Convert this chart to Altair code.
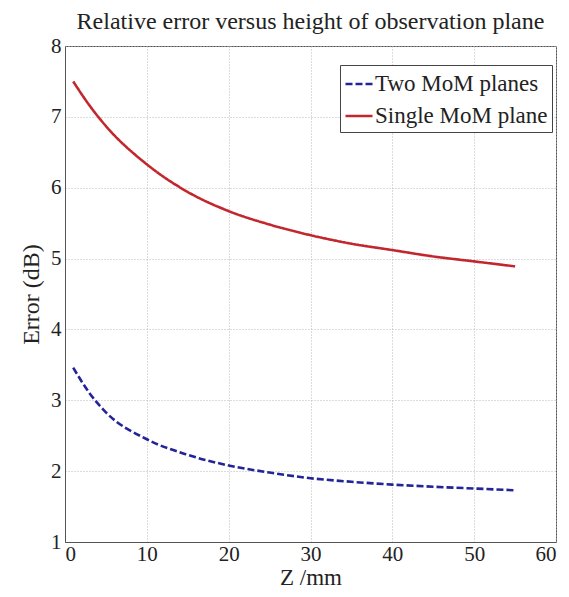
import altair as alt
import pandas as pd

z_mm = [1, 3, 5, 10, 15, 20, 25, 30, 35, 40, 45, 50, 55]
two_planes = [3.46, 3.10, 2.83, 2.45, 2.23, 2.08, 1.98, 1.90, 1.85, 1.81, 1.78, 1.755, 1.73]
single_plane = [7.50, 7.16, 6.87, 6.33, 5.94, 5.67, 5.48, 5.33, 5.21, 5.12, 5.03, 4.96, 4.89]
series_names = ["Two MoM planes", "Single MoM plane"]
x_ticks = [0, 10, 20, 30, 40, 50, 60]
y_ticks = [1, 2, 3, 4, 5, 6, 7, 8]

rows = []
for z, v in zip(z_mm, two_planes):
    rows.append({"z": z, "err": v, "series": series_names[0]})
for z, v in zip(z_mm, single_plane):
    rows.append({"z": z, "err": v, "series": series_names[1]})
df = pd.DataFrame(rows)

FONT = "Liberation Serif"

legend = alt.Legend(title=None, orient="none", legendX=275, legendY=19,
                    symbolType="stroke", symbolSize=729, symbolStrokeWidth=2.5,
                    labelFont=FONT, labelFontSize=23, labelColor="#222", labelLimit=400,
                    fillColor="white", strokeColor="#444", padding=4,
                    rowPadding=5, labelOffset=1, cornerRadius=0)

chart = alt.Chart(df).mark_line(strokeWidth=2.6, interpolate="monotone").encode(
    x=alt.X("z:Q", scale=alt.Scale(domain=[0, 60], nice=False),
            axis=alt.Axis(values=x_ticks, title="Z /mm", format="d")),
    y=alt.Y("err:Q", scale=alt.Scale(domain=[1, 8], nice=False),
            axis=alt.Axis(values=y_ticks, title="Error (dB)", format="d")),
    color=alt.Color("series:N",
                    scale=alt.Scale(domain=series_names, range=["#23239a", "#c1272d"]),
                    legend=legend),
    strokeDash=alt.StrokeDash("series:N",
                              scale=alt.Scale(domain=series_names, range=[[7, 3], [1, 0]]),
                              legend=legend),
).properties(
    width=491, height=496,
    background="white",
    title=alt.TitleParams("Relative error versus height of observation plane",
                          font=FONT, fontSize=24, fontWeight="normal", color="#222",
                          anchor="middle", offset=1),
    autosize=alt.AutoSizeParams(type="none"),
    padding={"left": 57, "top": 38, "right": 2, "bottom": 47},
).configure_axis(
    labelFont=FONT, labelFontSize=21, labelColor="#222",
    titleFont=FONT, titleFontSize=24, titleFontWeight="normal", titleColor="#222",
    grid=True, gridColor="#b8b8b8", gridDash=[1, 2], gridWidth=1,
    domainColor="#555", ticks=False,
).configure_axisX(
    labelPadding=1, titlePadding=2, titleFontSize=23,
).configure_axisY(
    labelPadding=4, titlePadding=7,
).configure_view(
    stroke="#555", strokeWidth=1,
)

chart.save("out.html", embed_options={"renderer": "svg", "actions": False})
